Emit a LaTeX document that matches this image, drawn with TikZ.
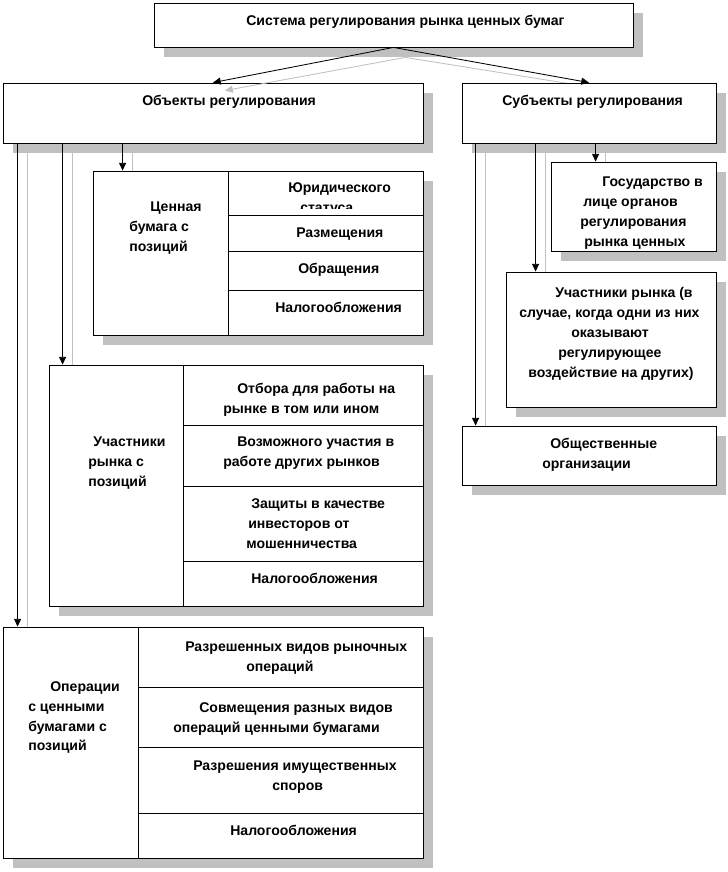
\documentclass[tikz,border=0pt]{standalone}
\usepackage{fontspec}
\setmainfont{Liberation Sans}
\usetikzlibrary{arrows.meta,fit}
\pgfdeclarelayer{bg}
\pgfsetlayers{bg,main}
\definecolor{shadowgray}{RGB}{192,192,192}
\tikzset{
  cell/.style={draw, fill=white, line width=0.6pt, inner sep=0pt},
  txt/.style={anchor=north west, align=left, inner sep=0pt, font=\fontsize{10}{14.2}\selectfont\bfseries},
  conn/.style={line width=0.6pt, -{Triangle[length=5.5pt,width=5pt]}},
  ghost/.style={draw=shadowgray, line width=0.6pt}
}
\begin{document}
\begin{tikzpicture}[x=0.25mm, y=-0.25mm]
	\useasboundingbox (0,0) rectangle (727,872);
	% boxes
	\node[cell, fit={(154,3) (633,47)}] (sys) {};
	\node[cell, fit={(3,83) (423,143)}] (obj) {};
	\node[cell, fit={(462,83) (716,143)}] (subj) {};
	% securities
	\node[cell, fit={(93,171) (423,335)}] (sec) {};
	\node[cell, fit={(93,171) (228,335)}] (secL) {};
	\node[cell, fit={(228,171) (423,215)}] (secA) {};
	\node[cell, fit={(228,215) (423,251)}] (secB) {};
	\node[cell, fit={(228,251) (423,290)}] (secC) {};
	\node[cell, fit={(228,290) (423,335)}] (secD) {};
	% market participants
	\node[cell, fit={(49,365) (423,606)}] (part) {};
	\node[cell, fit={(49,365) (183,606)}] (partL) {};
	\node[cell, fit={(183,365) (423,425)}] (partA) {};
	\node[cell, fit={(183,425) (423,486)}] (partB) {};
	\node[cell, fit={(183,486) (423,561)}] (partC) {};
	\node[cell, fit={(183,561) (423,606)}] (partD) {};
	% operations
	\node[cell, fit={(3,627) (423,858)}] (oper) {};
	\node[cell, fit={(3,627) (138,858)}] (operL) {};
	\node[cell, fit={(138,627) (423,687)}] (operA) {};
	\node[cell, fit={(138,687) (423,747)}] (operB) {};
	\node[cell, fit={(138,747) (423,813)}] (operC) {};
	\node[cell, fit={(138,813) (423,858)}] (operD) {};
	% subjects
	\node[cell, fit={(551,162) (716,251)}] (state) {};
	\node[cell, fit={(506,272) (716,407)}] (mpart) {};
	\node[cell, fit={(462,426) (716,485)}] (publ) {};
	% shadows
	\begin{pgfonlayer}{bg}
		\foreach \n in {sys,obj,subj,sec,part,oper,state,mpart,publ}
			\fill[shadowgray] ([shift={(10,10)}]\n.north west) rectangle ([shift={(10,10)}]\n.south east);
		\draw[ghost] ([shift={(12,10)}]sys.south) -- ([shift={(17,7)}]subj.north);
		\draw[ghost] ([shift={(25,0)}]obj.south west) -- ([shift={(25,0)}]oper.north west);
		\draw[ghost] ([shift={(70,0)}]obj.south west) -- ([shift={(24,0)}]part.north west);
		\draw[ghost] ([shift={(130,0)}]obj.south west) -- ([shift={(40,0)}]sec.north west);
		\draw[ghost] ([shift={(24,0)}]subj.south west) -- ([shift={(24,0)}]publ.north west);
		\draw[ghost] ([shift={(84,0)}]subj.south west) -- ([shift={(40,0)}]mpart.north west);
		\draw[ghost] ([shift={(144,0)}]subj.south west) -- ([shift={(55,0)}]state.north west);
	\end{pgfonlayer}
	% connectors
	\draw[conn] (sys.south) -- (obj.north);
	\draw[conn] (sys.south) -- (subj.north);
	\draw[ghost, -{Triangle[length=5.5pt,width=5pt]}] ([shift={(12,10)}]sys.south) -- ([shift={(12,8)}]obj.north);
	\draw[conn] ([shift={(15,0)}]obj.south west) -- ([shift={(15,0)}]oper.north west);
	\draw[conn] ([shift={(60,0)}]obj.south west) -- ([shift={(14,0)}]part.north west);
	\draw[conn] ([shift={(120,0)}]obj.south west) -- ([shift={(30,0)}]sec.north west);
	\draw[conn] ([shift={(14,0)}]subj.south west) -- ([shift={(14,0)}]publ.north west);
	\draw[conn] ([shift={(74,0)}]subj.south west) -- ([shift={(30,0)}]mpart.north west);
	\draw[conn] ([shift={(134,0)}]subj.south west) -- ([shift={(45,0)}]state.north west);
	% texts
	\node[txt] (sysT) at (246,15) {Система регулирования рынка ценных бумаг};
	\node[txt] (objT) at (142,95) {Объекты регулирования};
	\node[txt] (subjT) at (502,95) {Субъекты регулирования};
	\node[txt] (secT) at (129,202) {\hspace*{5.25mm}Ценная\\бумага с\\позиций};
	\begin{scope}
		\clip (secA.north west) rectangle ([shift={(0,-7)}]secA.south east);
		\node[txt] (secAT) at (288,182) {Юридического\\\hspace*{3mm}статуса};
	\end{scope}
	\node[txt] (secBT) at (296,228) {Размещения};
	\node[txt] (secCT) at (298,263) {Обращения};
	\node[txt] (secDT) at (275,302) {Налогообложения};
	\node[txt] (partT) at (88,437) {\hspace*{1.25mm}Участники\\рынка с\\позиций};
	\node[txt] (partAT) at (223,383) {\hspace*{3.5mm}Отбора для работы на\\рынке в том или ином};
	\node[txt] (partBT) at (223,437) {\hspace*{3.5mm}Возможного участия в\\работе других рынков};
	\node[txt] (partCT) at (246,498) {\hspace*{1.25mm}Защиты в качестве\\\hspace*{0.5mm}инвесторов от\\мошенничества};
	\node[txt] (partDT) at (251,573) {Налогообложения};
	\node[txt] (operT) at (28,681) {\hspace*{5.5mm}Операции\\с ценными\\бумагами с\\позиций};
	\node[txt] (operAT) at (185,642) {Разрешенных видов рыночных\\\hspace*{15.25mm}операций};
	\node[txt] (operBT) at (173,702) {\hspace*{6.5mm}Совмещения разных видов\\операций ценными бумагами};
	\node[txt] (operCT) at (193,761) {Разрешения имущественных\\\hspace*{19.75mm}споров};
	\node[txt] (operDT) at (230,825) {Налогообложения};
	\node[txt] (stateT) at (580,177) {\hspace*{5.5mm}Государство в\\\hspace*{0.75mm}лице органов\\регулирования\\\hspace*{1mm}рынка ценных};
	\node[txt] (mpartT) at (519,287) {\hspace*{9mm}Участники рынка (в\\случае, когда одни из них\\\hspace*{13mm}оказывают\\\hspace*{9.75mm}регулирующее\\\hspace*{2.25mm}воздействие на других)};
	\node[txt] (publT) at (542,438) {\hspace*{2mm}Общественные\\организации};
\end{tikzpicture}
\end{document}
